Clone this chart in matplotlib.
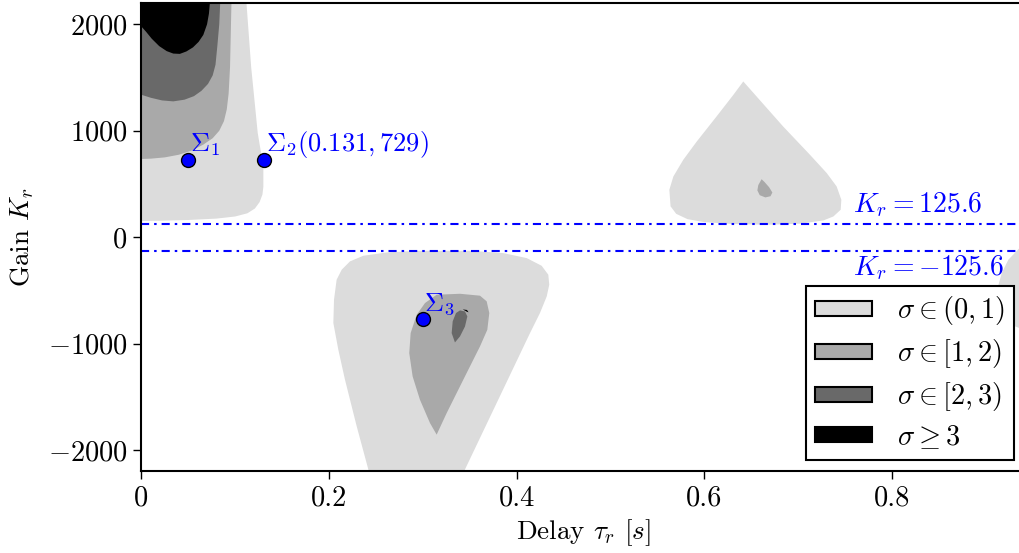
import matplotlib
matplotlib.use('Agg')
import matplotlib.pyplot as plt
from matplotlib.patches import Patch

plt.rcParams['font.family'] = 'serif'
plt.rcParams['font.serif'] = ['cmr10']
plt.rcParams['mathtext.fontset'] = 'cm'
plt.rcParams['axes.formatter.use_mathtext'] = True
plt.rcParams['font.size'] = 20.5

# stability regions (tau_r, K_r) outlines
upper_01_x = [0, 0.112, 0.117, 0.124, 0.130, 0.130, 0.129, 0.126, 0.121, 0.113, 0.100, 0.080,
              0.050, 0.020, 0]
upper_01_y = [2200, 2200, 1600, 980, 662, 474, 400, 330, 270, 225, 195, 175,
              162, 155, 153]
upper_12_x = [0, 0.096, 0.0945, 0.093, 0.091, 0.088, 0.083, 0.076, 0.066, 0.054, 0.040,
              0.025, 0.010, 0]
upper_12_y = [2200, 2200, 1600, 1350, 1200, 1090, 1000, 930, 870, 815, 775,
              750, 738, 735]
upper_23_x = [0, 0.084, 0.083, 0.081, 0.079, 0.076, 0.071, 0.064, 0.056, 0.046, 0.034,
              0.022, 0.010, 0]
upper_23_y = [2200, 2200, 2000, 1800, 1620, 1520, 1440, 1375, 1325, 1292, 1276,
              1285, 1310, 1338]
upper_3_x = [0, 0.073, 0.072, 0.070, 0.066, 0.061, 0.055, 0.048, 0.041, 0.034, 0.027,
             0.019, 0.011, 0.005, 0]
upper_3_y = [2200, 2200, 2100, 2000, 1900, 1835, 1783, 1745, 1722, 1725, 1748,
             1795, 1865, 1930, 1979]

mid_01_x = [0.6415, 0.684, 0.7125, 0.7304, 0.741, 0.746, 0.7453, 0.7375, 0.727, 0.702,
            0.6665, 0.631, 0.600, 0.582, 0.570, 0.564, 0.5627, 0.567, 0.5776, 0.592,
            0.613, 0.631]
mid_01_y = [1463, 1040, 775, 603, 477, 352, 258, 195, 158, 127,
            117, 124, 142, 170, 220, 290, 446, 571, 728, 900,
            1134, 1338]
mid_12_x = [0.661, 0.6575, 0.6565, 0.659, 0.665, 0.6705, 0.6725, 0.669, 0.664]
mid_12_y = [545, 490, 440, 395, 374, 385, 420, 470, 520]

lower_01_x = [0.2046, 0.2053, 0.2081, 0.2135, 0.2223, 0.2365, 0.2614, 0.2969, 0.3502,
              0.3857, 0.4107, 0.4266, 0.4337, 0.4347, 0.4320, 0.4248, 0.4142, 0.3431,
              0.2429, 0.2295, 0.217, 0.2099]
lower_01_y = [-806, -587, -399, -305, -227, -174, -143, -127, -127,
              -149, -196, -268, -352, -446, -556, -712, -900, -2214,
              -2214, -1776, -1338, -1056]
lower_12_x = [0.3147, 0.3396, 0.3609, 0.368, 0.3708, 0.3687, 0.3609, 0.3431, 0.3254,
              0.3147, 0.3076, 0.2969, 0.2891, 0.2855, 0.287, 0.2934, 0.3023]
lower_12_y = [-540, -531, -549, -602, -712, -869, -1025, -1338, -1651,
              -1854, -1745, -1526, -1307, -1088, -900, -728, -618]
lower_23_x = [0.3396, 0.3449, 0.3474, 0.3449, 0.3396, 0.3342, 0.3307, 0.3318, 0.3353]
lower_23_y = [-687, -697, -744, -838, -931, -988, -900, -790, -712]
lower_3_x = [0.3425, 0.3470, 0.3487, 0.3470]
lower_3_y = [-678, -683, -705, -700]

right_01_x = [0.936, 0.924, 0.917, 0.913, 0.912, 0.920, 0.950, 0.950]
right_01_y = [-101, -211, -336, -462, -600, -800, -900, -100]

# design points
sigma_x = [0.05, 0.131, 0.30]
sigma_y = [729, 729, -765]
sigma_labels = [r'$\Sigma_1$', r'$\Sigma_2(0.131,729)$', r'$\Sigma_3$']

k_limit = 125.6

colors = ['gainsboro', 'darkgray', 'dimgray', 'black']
legend_labels = [r'$\sigma\in(0,1)$', r'$\sigma\in[1,2)$', r'$\sigma\in[2,3)$', r'$\sigma\geq3$']

fig = plt.figure(figsize=(10.2, 5.53), dpi=100)
ax = fig.add_axes([0.1386, 0.1474, 0.867, 0.8472])

regions = [
    (upper_01_x, upper_01_y, 0), (upper_12_x, upper_12_y, 1),
    (upper_23_x, upper_23_y, 2), (upper_3_x, upper_3_y, 3),
    (mid_01_x, mid_01_y, 0), (mid_12_x, mid_12_y, 1),
    (lower_01_x, lower_01_y, 0), (lower_12_x, lower_12_y, 1),
    (lower_23_x, lower_23_y, 2), (lower_3_x, lower_3_y, 3),
    (right_01_x, right_01_y, 0),
]
for xs, ys, lvl in regions:
    ax.fill(xs, ys, color=colors[lvl], linewidth=0, zorder=1)

dash = (0, (3.9, 2.4, 1.2, 2.4))
ax.axhline(k_limit, color='blue', linewidth=1.5, linestyle=dash, zorder=2)
ax.axhline(-k_limit, color='blue', linewidth=1.5, linestyle=dash, zorder=2)
ax.text(0.758, 230, r'$K_r=%.1f$' % k_limit, color='blue', va='baseline', fontsize=20)
ax.text(0.758, -355, r'$K_r=-%.1f$' % k_limit, color='blue', va='baseline', fontsize=20)

ax.plot(sigma_x, sigma_y, 'o', color='blue', markeredgecolor='black',
        markersize=10, markeredgewidth=1, zorder=4)
for x, y, lab in zip(sigma_x, sigma_y, sigma_labels):
    ax.annotate(lab, (x, y), xytext=(1, 6), textcoords='offset points', fontsize=19,
                color='blue', va='baseline', ha='left', zorder=5)

ax.set_xlim(0, 0.9425)
ax.set_ylim(-2200, 2200)
ax.set_xticks([0, 0.2, 0.4, 0.6, 0.8])
ax.set_xticklabels(['0', '0.2', '0.4', '0.6', '0.8'])
ax.set_yticks([-2000, -1000, 0, 1000, 2000])
ax.tick_params(direction='out', length=6, width=1, top=False, right=False, pad=4)
for s in ax.spines.values():
    s.set_linewidth(1.5)
ax.spines['right'].set_visible(False)

ax.set_xlabel(r'Delay $\tau_r$ $[s]$', fontsize=19.5)
ax.set_ylabel(r'Gain $K_r$', fontsize=19.5, labelpad=8)

handles = [Patch(facecolor=c, edgecolor='black', linewidth=1.5, label=l)
           for c, l in zip(colors, legend_labels)]
leg = ax.legend(handles=handles, loc='lower right', fancybox=False, framealpha=1,
                edgecolor='black', handlelength=2.0, handleheight=0.44,
                handletextpad=0.9, labelspacing=0.35, borderpad=0.3,
                borderaxespad=0.42)
leg.get_frame().set_linewidth(1.5)
leg.set_zorder(10)

fig.savefig('out.png', dpi=100)
